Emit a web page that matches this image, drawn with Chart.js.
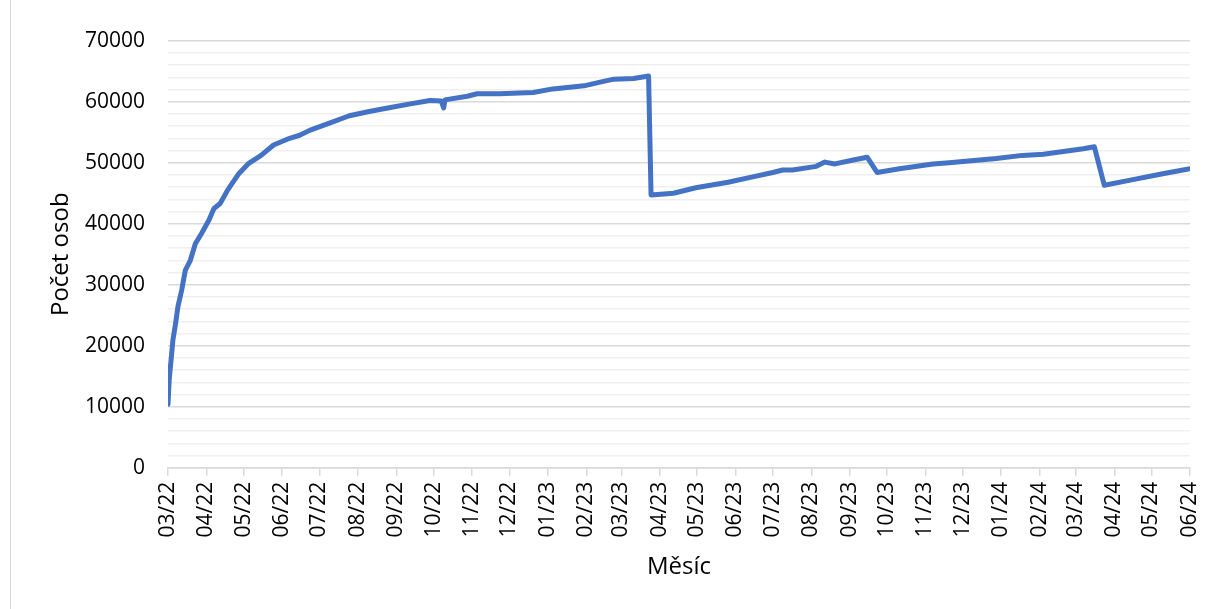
<!DOCTYPE html>
<html>
<head>
<meta charset="utf-8">
<script src="https://cdn.jsdelivr.net/npm/chart.js@4.4.1/dist/chart.umd.min.js"></script>
<style>
  html, body { margin: 0; padding: 0; background: #ffffff; overflow: hidden; }
  #wrap { position: relative; width: 1210px; height: 609px; }
  #frame { position: absolute; left: 10px; top: -5px; width: 1260px; height: 630px; border: 1.5px solid #d9d9d9; box-sizing: border-box; pointer-events: none; }
  canvas { position: absolute; left: 0; top: 0; }
</style>
</head>
<body>
<div id="wrap">
  <canvas id="c" width="1210" height="609"></canvas>
  <div id="frame"></div>
</div>
<script>
const dates = ['2022-03-01','2022-03-02','2022-03-04','2022-03-05','2022-03-07','2022-03-09','2022-03-12','2022-03-15','2022-03-19','2022-03-23','2022-03-28','2022-04-03','2022-04-07','2022-04-12','2022-04-18','2022-04-27','2022-05-05','2022-05-15','2022-05-25','2022-06-07','2022-06-15','2022-06-23','2022-07-09','2022-07-25','2022-08-10','2022-08-26','2022-09-11','2022-09-28','2022-10-07','2022-10-09','2022-10-10','2022-10-28','2022-11-05','2022-11-23','2022-12-20','2023-01-05','2023-01-30','2023-02-12','2023-02-23','2023-03-11','2023-03-23','2023-03-25','2023-04-12','2023-04-30','2023-05-26','2023-06-13','2023-07-01','2023-07-09','2023-07-17','2023-08-05','2023-08-12','2023-08-20','2023-09-03','2023-09-15','2023-09-23','2023-10-11','2023-11-07','2023-11-20','2023-12-28','2024-01-18','2024-02-04','2024-03-07','2024-03-16','2024-03-24','2024-04-13','2024-05-10','2024-06-01'];
const counts = [10400,14500,18800,21000,23500,26400,29100,32400,34000,36700,38400,40600,42500,43300,45500,48200,49900,51200,52900,54000,54500,55300,56500,57700,58400,59000,59600,60200,60100,59000,60300,60900,61300,61300,61500,62100,62600,63200,63700,63800,64200,44700,45000,45900,46800,47600,48400,48800,48800,49400,50100,49800,50400,50900,48400,49000,49800,50000,50700,51200,51400,52300,52600,46300,47100,48200,49000];
const tickLabels = ['03/22','04/22','05/22','06/22','07/22','08/22','09/22','10/22','11/22','12/22','01/23','02/23','03/23','04/23','05/23','06/23','07/23','08/23','09/23','10/23','11/23','12/23','01/24','02/24','03/24','04/24','05/24','06/24'];
const yTitle = 'Počet osob';
const xTitle = 'Měsíc';

const BASE = Date.UTC(2022, 2, 1);
function dayOf(y, m, d) { return (Date.UTC(y, m - 1, d) - BASE) / 86400000; }
function dayFromIso(s) { const p = s.split('-').map(Number); return dayOf(p[0], p[1], p[2]); }
function dayFromLabel(s) { const p = s.split('/').map(Number); return dayOf(2000 + p[1], p[0], 1); }

const points = dates.map((d, i) => ({ x: dayFromIso(d), y: counts[i] }));
const tickDays = tickLabels.map(dayFromLabel);
const labelByDay = {};
tickDays.forEach((d, i) => { labelByDay[d] = tickLabels[i]; });

const FONT = "'Open Sans', 'Noto Sans', sans-serif";

new Chart(document.getElementById('c'), {
  type: 'line',
  data: {
    datasets: [{
      data: points,
      borderColor: '#4472C4',
      borderWidth: 5,
      pointRadius: 0,
      tension: 0,
      borderJoinStyle: 'round',
      borderCapStyle: 'round',
      fill: false
    }]
  },
  options: {
    responsive: false,
    animation: false,
    layout: { padding: { left: 45, top: 40.7, right: 20, bottom: 20 } },
    plugins: { legend: { display: false }, tooltip: { enabled: false } },
    scales: {
      x: {
        type: 'linear',
        min: tickDays[0],
        max: tickDays[tickDays.length - 1],
        afterBuildTicks: (s) => { s.ticks = tickDays.map(v => ({ value: v })); },
        afterFit: (s) => { s.height = 609 - 467.7 - 20; s.paddingLeft = 0; s.paddingRight = 0; },
        ticks: {
          autoSkip: false,
          minRotation: 90,
          maxRotation: 90,
          padding: 6,
          color: '#000',
          font: { family: FONT, size: 21 },
          callback: (v) => labelByDay[v] || ''
        },
        grid: { drawOnChartArea: false, drawTicks: true, tickLength: 8, color: '#d9d9d9', lineWidth: 1.5 },
        border: { display: true, color: '#d9d9d9', width: 1.5 },
        title: { display: true, text: xTitle, color: '#000', font: { family: FONT, size: 24 }, padding: { top: 0, bottom: 7.6 } }
      },
      y: {
        min: 0,
        max: 70000,
        afterFit: (s) => { s.width = 168 - 45; s.paddingTop = 0; s.paddingBottom = 0; },
        ticks: {
          stepSize: 2000,
          autoSkip: false,
          padding: 23,
          color: '#000',
          font: { family: FONT, size: 21 },
          callback: (v) => (v % 10000 === 0 ? String(v) : '')
        },
        grid: {
          drawTicks: false,
          color: (ctx) => (ctx.tick && ctx.tick.value % 10000 === 0 ? '#d9d9d9' : '#efefef'),
          lineWidth: 1.5
        },
        border: { display: false },
        title: { display: true, text: yTitle, color: '#000', font: { family: FONT, size: 24 }, padding: { top: 2, bottom: 0 } }
      }
    }
  }
});
</script>
</body>
</html>
